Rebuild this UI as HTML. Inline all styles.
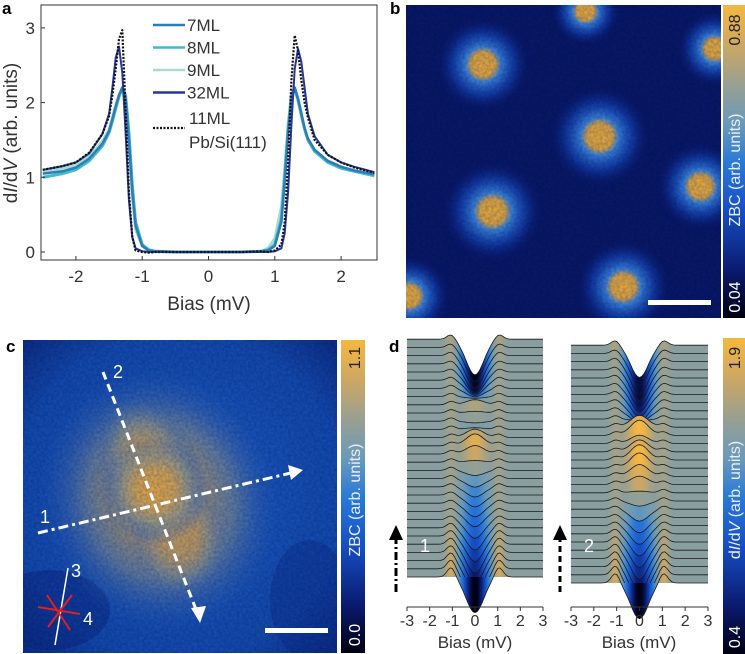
<!DOCTYPE html>
<html><head><meta charset="utf-8"><style>
body{margin:0;background:#fff;}
svg{display:block;font-family:"Liberation Sans",sans-serif;}
</style></head><body>
<svg id="fig" width="745" height="654" viewBox="0 0 745 654" xmlns="http://www.w3.org/2000/svg">
<defs>
  <linearGradient id="cmapV" x1="0" y1="1" x2="0" y2="0">
    <stop offset="0" stop-color="#000010"/><stop offset="0.15" stop-color="#0a1a6e"/><stop offset="0.35" stop-color="#1650c8"/>
    <stop offset="0.5" stop-color="#2a7ad8"/><stop offset="0.62" stop-color="#6a9ab8"/><stop offset="0.75" stop-color="#9aa090"/>
    <stop offset="0.88" stop-color="#d0a860"/><stop offset="1" stop-color="#f5b840"/>
  </linearGradient>
  <radialGradient id="blob">
    <stop offset="0" stop-color="#f5b83a"/><stop offset="0.25" stop-color="#e8b040"/><stop offset="0.38" stop-color="#3a8ae0"/>
    <stop offset="0.65" stop-color="#1650c0" stop-opacity="0.7"/><stop offset="1" stop-color="#0a1a6e" stop-opacity="0"/>
  </radialGradient>
  <radialGradient id="cblob">
    <stop offset="0" stop-color="#f0b445"/><stop offset="0.35" stop-color="#dcae55"/><stop offset="0.6" stop-color="#a0a488" stop-opacity="0.8"/>
    <stop offset="1" stop-color="#1e62c8" stop-opacity="0"/>
  </radialGradient>
  <radialGradient id="cbg" cx="0.5" cy="0.5" r="0.75">
    <stop offset="0" stop-color="#1e62c8"/><stop offset="0.7" stop-color="#1450b0"/><stop offset="1" stop-color="#0a2a7a"/>
  </radialGradient>
  <filter id="noise"><feTurbulence type="fractalNoise" baseFrequency="0.35" numOctaves="2" seed="3"/><feColorMatrix values="0 0 0 0 0  0 0 0 0 0  0 0 0 0 0.1  0 0 0 0.35 0"/></filter>
  <clipPath id="clipB"><rect x="406" y="5" width="315" height="313"/></clipPath>
  <clipPath id="clipC"><rect x="23" y="340" width="314" height="313"/></clipPath>
  <clipPath id="clipA"><rect x="41" y="5" width="336" height="255"/></clipPath>
</defs>

<!-- Panel a -->
<g>
  <text x="2" y="14" font-size="17" font-weight="bold">a</text>
  <g id="aPlot"></g>
  <rect x="41" y="5" width="336" height="255" fill="none" stroke="#333" stroke-width="1"/>
  <g id="aAxes" font-size="17" fill="#333"></g>
  <text x="209" y="310" font-size="19" text-anchor="middle" fill="#333">Bias (mV)</text>
  <text transform="translate(17,133) rotate(-90)" font-size="19" text-anchor="middle" fill="#333">d<tspan font-style="italic">I</tspan>/d<tspan font-style="italic">V</tspan> (arb. units)</text>
  <g id="legendA" font-size="17" fill="#333"></g>
</g>

<!-- Panel b -->
<g>
  <text x="390" y="14" font-size="17" font-weight="bold">b</text>
  <g clip-path="url(#clipB)">
    <rect x="406" y="5" width="315" height="313" fill="#081a62"/>
    <g id="bBlobs"></g>
    <rect x="406" y="5" width="315" height="313" filter="url(#noise)"/>
  </g>
  <rect x="648" y="300" width="63" height="5" fill="#fff"/>
  <rect x="723" y="5" width="22" height="313" fill="url(#cmapV)"/>
  <text transform="translate(740,30) rotate(-90)" font-size="16" text-anchor="middle" fill="#222">0.88</text>
  <text transform="translate(740,170) rotate(-90)" font-size="16" text-anchor="middle" fill="#e8eef8">ZBC (arb. units)</text>
  <text transform="translate(740,297) rotate(-90)" font-size="16" text-anchor="middle" fill="#fff">0.04</text>
</g>

<!-- Panel c -->
<g>
  <text x="6" y="352" font-size="17" font-weight="bold">c</text>
  <g clip-path="url(#clipC)">
    <rect x="23" y="340" width="314" height="313" fill="url(#cbg)"/>
    <ellipse cx="50" cy="610" rx="60" ry="40" fill="#0a2a80" opacity="0.5"/>
    <ellipse cx="310" cy="600" rx="40" ry="60" fill="#0a2a80" opacity="0.35"/>
    <ellipse cx="160" cy="500" rx="120" ry="135" fill="url(#cblob)" opacity="0.7" transform="rotate(-20 160 500)"/>
    <ellipse cx="150" cy="470" rx="50" ry="80" fill="url(#cblob)" opacity="0.8" transform="rotate(-20 150 470)"/>
    <ellipse cx="180" cy="540" rx="50" ry="60" fill="url(#cblob)" opacity="0.6"/>
    <ellipse cx="155" cy="490" rx="55" ry="55" fill="url(#cblob)"/>
    <rect x="23" y="340" width="314" height="313" filter="url(#noise)"/>
  </g>
  <line x1="38" y1="533" x2="295" y2="472" stroke="#fff" stroke-width="3" stroke-dasharray="10,4,3,4"/>
  <polygon points="303,470 288,465 291,480" fill="#fff"/>
  <line x1="103" y1="372" x2="197" y2="612" stroke="#fff" stroke-width="3" stroke-dasharray="8,5"/>
  <polygon points="200,623 191,608 206,606" fill="#fff"/>
  <text x="40" y="523" font-size="18" fill="#fff">1</text>
  <text x="113" y="378" font-size="18" fill="#fff">2</text>
  <line x1="55" y1="645" x2="68" y2="568" stroke="#fff" stroke-width="1.5"/>
  <text x="71" y="577" font-size="18" fill="#fff">3</text>
  <g stroke="#e02020" stroke-width="2">
    <line x1="38" y1="607" x2="80" y2="614"/><line x1="47" y1="595" x2="70" y2="630"/><line x1="48" y1="627" x2="72" y2="595"/>
  </g>
  <text x="83" y="625" font-size="18" fill="#fff">4</text>
  <rect x="265" y="628" width="63" height="5" fill="#fff"/>
  <rect x="341" y="340" width="24" height="313" fill="url(#cmapV)"/>
  <text transform="translate(360,358) rotate(-90)" font-size="16" text-anchor="middle" fill="#222">1.1</text>
  <text transform="translate(360,500) rotate(-90)" font-size="16" text-anchor="middle" fill="#e8eef8">ZBC (arb. units)</text>
  <text transform="translate(360,635) rotate(-90)" font-size="16" text-anchor="middle" fill="#fff">0.0</text>
</g>

<!-- Panel d -->
<g>
  <text x="389" y="352" font-size="17" font-weight="bold">d</text>
  <g id="d1"></g>
  <g id="d2"></g>
  <g id="dAxes" font-size="16" fill="#333"></g>
  <text x="475" y="648" font-size="17" text-anchor="middle" fill="#333">Bias (mV)</text>
  <text x="639" y="648" font-size="17" text-anchor="middle" fill="#333">Bias (mV)</text>
  <line x1="396" y1="592" x2="396" y2="540" stroke="#000" stroke-width="3" stroke-dasharray="8,3,2,3"/>
  <polygon points="396,525 389,540 403,540" fill="#000"/>
  <line x1="560" y1="592" x2="560" y2="540" stroke="#000" stroke-width="3" stroke-dasharray="6,4"/>
  <polygon points="560,525 553,540 567,540" fill="#000"/>
  <text x="420" y="552" font-size="18" fill="#fff">1</text>
  <text x="584" y="552" font-size="18" fill="#fff">2</text>
  <rect x="723" y="338" width="22" height="316" fill="url(#cmapV)"/>
  <text transform="translate(740,358) rotate(-90)" font-size="16" text-anchor="middle" fill="#222">1.9</text>
  <text transform="translate(740,500) rotate(-90)" font-size="16" text-anchor="middle" fill="#e8eef8">d<tspan font-style="italic">I</tspan>/d<tspan font-style="italic">V</tspan> (arb. units)</text>
  <text transform="translate(740,637) rotate(-90)" font-size="16" text-anchor="middle" fill="#fff">0.4</text>
</g>
</svg>
<script>
// ---- Panel a data ----
const biasA = [-2.5,-2.2,-2.0,-1.8,-1.6,-1.5,-1.45,-1.4,-1.35,-1.3,-1.25,-1.2,-1.15,-1.1,-1.0,-0.9,-0.8,-0.5,0,0.5,0.8,0.9,1.0,1.1,1.15,1.2,1.25,1.3,1.35,1.4,1.45,1.5,1.6,1.8,2.0,2.2,2.5];
const ml7 = [1.05,1.08,1.13,1.25,1.45,1.62,1.78,1.95,2.1,2.2,2.05,1.5,0.8,0.35,0.08,0.02,0.01,0,0,0,0.01,0.02,0.08,0.4,0.95,1.6,2.05,2.2,2.05,1.85,1.66,1.52,1.37,1.22,1.14,1.09,1.04];
const ml8 = [1.0,1.05,1.1,1.22,1.42,1.6,1.75,1.92,2.08,2.2,2.1,1.6,0.9,0.4,0.1,0.03,0.01,0,0,0,0.01,0.03,0.1,0.45,1.0,1.65,2.1,2.2,2.05,1.85,1.65,1.5,1.35,1.2,1.12,1.08,1.02];
const ml9 = [1.08,1.12,1.16,1.28,1.48,1.64,1.8,1.96,2.1,2.18,2.0,1.45,0.75,0.3,0.08,0.02,0.01,0,0,0,0.01,0.05,0.18,0.6,1.1,1.7,2.1,2.18,2.02,1.82,1.64,1.5,1.35,1.22,1.14,1.09,1.04];
const ml32 = [1.1,1.15,1.2,1.32,1.58,1.85,2.2,2.6,2.75,2.4,1.6,0.7,0.2,0.05,0.01,0,0,0,0,0,0,0,0.01,0.05,0.25,0.8,1.7,2.45,2.72,2.55,2.2,1.85,1.55,1.3,1.2,1.14,1.07];
const pbsi = [1.1,1.15,1.2,1.33,1.58,1.82,2.1,2.45,2.85,2.97,1.9,0.8,0.2,0.02,0,-0.01,0,0,0,0,0.01,0,0.02,0.1,0.4,1.2,2.3,2.9,2.7,2.3,2.0,1.8,1.5,1.3,1.2,1.13,1.06];
const xTicksA = [-2,-1,0,1,2];
const yTicksA = [0,1,2,3];
const legendLabels = ["7ML","8ML","9ML","32ML"];

// ---- Panel b data: blob centres (image fraction) ----
const blobBx = [0.57,0.245,0.615,0.935,0.275,0.69,0.01,0.98];
const blobBy = [0.02,0.19,0.42,0.58,0.66,0.90,0.93,0.14];
const blobBr = [0.11,0.15,0.16,0.14,0.16,0.15,0.13,0.12];

// ---- Panel d data: zero-bias value and coherence-peak height per trace (bottom→top) ----
const zbc1 = [0.4,0.45,0.5,0.55,0.6,0.7,0.8,0.9,1.0,1.05,1.1,1.15,1.2,1.3,1.5,1.7,1.8,1.7,1.5,1.4,1.5,1.6,1.4,1.2,1.0,0.8,0.6,0.5,0.45,0.4];
const pk1  = [0.3,0.28,0.25,0.22,0.2,0.18,0.15,0.12,0.1,0.1,0.1,0.1,0.1,0.1,0.1,0.1,0.1,0.1,0.1,0.1,0.1,0.1,0.1,0.1,0.1,0.1,0.1,0.12,0.12,0.15];
const zbc2 = [0.4,0.4,0.45,0.5,0.6,0.7,0.8,0.9,1.0,1.1,1.3,1.5,1.7,1.8,1.9,1.9,1.8,1.7,1.9,1.8,1.4,1.1,0.9,0.8,0.7,0.6,0.55,0.5,0.5,0.5];
const pk2  = [0.3,0.28,0.25,0.22,0.2,0.18,0.15,0.12,0.1,0.1,0.1,0.1,0.1,0.1,0.1,0.1,0.1,0.1,0.1,0.1,0.1,0.1,0.1,0.1,0.1,0.1,0.1,0.12,0.12,0.15];
const xTicksD = [-3,-2,-1,0,1,2,3];

const NS = "http://www.w3.org/2000/svg";
function mk(tag, attrs, parent){ const e=document.createElementNS(NS,tag); for(const k in attrs) e.setAttribute(k,attrs[k]); parent.appendChild(e); return e; }

// Panel a axes
const xA = b => 208.5 + b*66.3;
const yA = v => 252 - v*74.7;
const aPlot = document.getElementById('aPlot');
const gClip = mk('g',{'clip-path':'url(#clipA)'},aPlot);
const seriesA = [[ml9,'#a8dccc',3],[ml8,'#3ebccb',3],[ml7,'#2e7cb8',2.5],[ml32,'#27379a',2],[pbsi,'#111',2.2]];
seriesA.forEach((s,si)=>{
  const pts = biasA.map((b,i)=>xA(b).toFixed(1)+','+yA(s[0][i]).toFixed(1)).join(' ');
  const pl = mk('polyline',{points:pts,fill:'none',stroke:s[1],'stroke-width':s[2],'stroke-linejoin':'round'},gClip);
  if(si===4) pl.setAttribute('stroke-dasharray','2,1.5');
  
  
});
const aAxes = document.getElementById('aAxes');
xTicksA.forEach(t=>{
  const ln = mk('line',{x1:xA(t),x2:xA(t),y1:260,y2:256,stroke:'#333'},aAxes);
  
  
  const tx = mk('text',{x:xA(t),y:282,'text-anchor':'middle'},aAxes);
  tx.textContent = t;
  
  
});
yTicksA.forEach(t=>{
  const ln = mk('line',{x1:41,x2:45,y1:yA(t),y2:yA(t),stroke:'#333'},aAxes);
  
  
  const tx = mk('text',{x:35,y:yA(t)+6,'text-anchor':'end'},aAxes);
  tx.textContent = t;
  
  
});
// legend
const lg = document.getElementById('legendA');
const legCols = ['#2e7cb8','#3ebccb','#a8dccc','#27379a'];
legendLabels.forEach((lab,i)=>{
  const y = 25 + i*22.5;
  const ln = mk('line',{x1:153,x2:185,y1:y,y2:y,stroke:legCols[i],'stroke-width':2.5},lg);
  
  
  const tx = mk('text',{x:187,y:y+6},lg);
  tx.textContent = lab;
  
  
});
const ldl = mk('line',{x1:153,x2:185,y1:128,y2:128,stroke:'#111','stroke-width':2.2,'stroke-dasharray':'2,1.5'},lg);


const l1 = mk('text',{x:189,y:124},lg); l1.textContent='11ML';


const l2 = mk('text',{x:189,y:148},lg); l2.textContent='Pb/Si(111)';



// Panel b blobs
const bB = document.getElementById('bBlobs');
blobBx.forEach((fx,i)=>{
  const c = mk('circle',{cx:406+fx*315, cy:5+blobBy[i]*313, r:blobBr[i]*315, fill:'url(#blob)'},bB);
  
  
});

// Panel d colormap
const cm = [[0,[0,0,16]],[0.15,[10,26,110]],[0.35,[22,80,200]],[0.5,[42,122,216]],[0.62,[106,154,184]],[0.75,[154,160,144]],[0.88,[208,168,96]],[1,[245,184,64]]];
function cmap(v){
  let t = (v-0.4)/1.5; t=Math.max(0,Math.min(1,t));
  for(let i=1;i<cm.length;i++){ if(t<=cm[i][0]){ const a=cm[i-1],b=cm[i]; const f=(t-a[0])/(b[0]-a[0]);
    const c=a[1].map((x,j)=>Math.round(x+(b[1][j]-x)*f)); return 'rgb('+c.join(',')+')'; } }
  return 'rgb(245,184,64)';
}
const defs = document.querySelector('defs');
function drawWaterfall(gid, x0, x1, baseBottom, zbc, pk, tag){
  const g = document.getElementById(gid);
  const xd = b => x0 + (b+3)/6*(x1-x0);
  const n = zbc.length, spacing = 8.2, scale = 34, side = 1.45;
  const bs = []; for(let k=0;k<=60;k++) bs.push(-3+k*0.1);
  for(let i=n-1;i>=0;i--){
    const val = b => side + (zbc[i]-side)*Math.exp(-Math.pow(b/0.55,2)) + pk[i]*Math.exp(-Math.pow((Math.abs(b)-1.05)/0.25,2));
    const base = baseBottom - i*spacing;
    const yv = b => base - (val(b)-side)*scale;
    if(i===0){
      const wr = mk('rect',{x:x0,y:base,width:x1-x0,height:607-base,fill:'#fff'},g);
      
      
    }
    const gr = mk('linearGradient',{id:tag+i,x1:x0,x2:x1,y1:0,y2:0,gradientUnits:'userSpaceOnUse'},defs);
    bs.forEach(b=>mk('stop',{offset:((b+3)/6).toFixed(3),'stop-color':cmap(val(b))},gr));
    const pts = bs.map(b=>xd(b).toFixed(1)+','+yv(b).toFixed(1));
    const close = i===0 ? base : 607;
    const poly = mk('polygon',{points:pts.join(' ')+' '+x1+','+close+' '+x0+','+close,fill:'url(#'+tag+i+')'},g);
    
    
    const ln = mk('polyline',{points:pts.join(' '),fill:'none',stroke:'#1a1a1a','stroke-width':0.8},g);
    
    
  }
  const ax = document.getElementById('dAxes');
  const axl = mk('line',{x1:x0,x2:x1,y1:607,y2:607,stroke:'#333'},ax);
  
  
  xTicksD.forEach(t=>{
    const tk = mk('line',{x1:xd(t),x2:xd(t),y1:607,y2:611,stroke:'#333'},ax);
    
    
    const tx = mk('text',{x:xd(t),y:626,'text-anchor':'middle'},ax);
    tx.textContent = t;
    
    
  });
}
drawWaterfall('d1',407,543,577,zbc1,pk1,'g1_');
drawWaterfall('d2',571,708,583,zbc2,pk2,'g2_');
</script>
</body></html>
